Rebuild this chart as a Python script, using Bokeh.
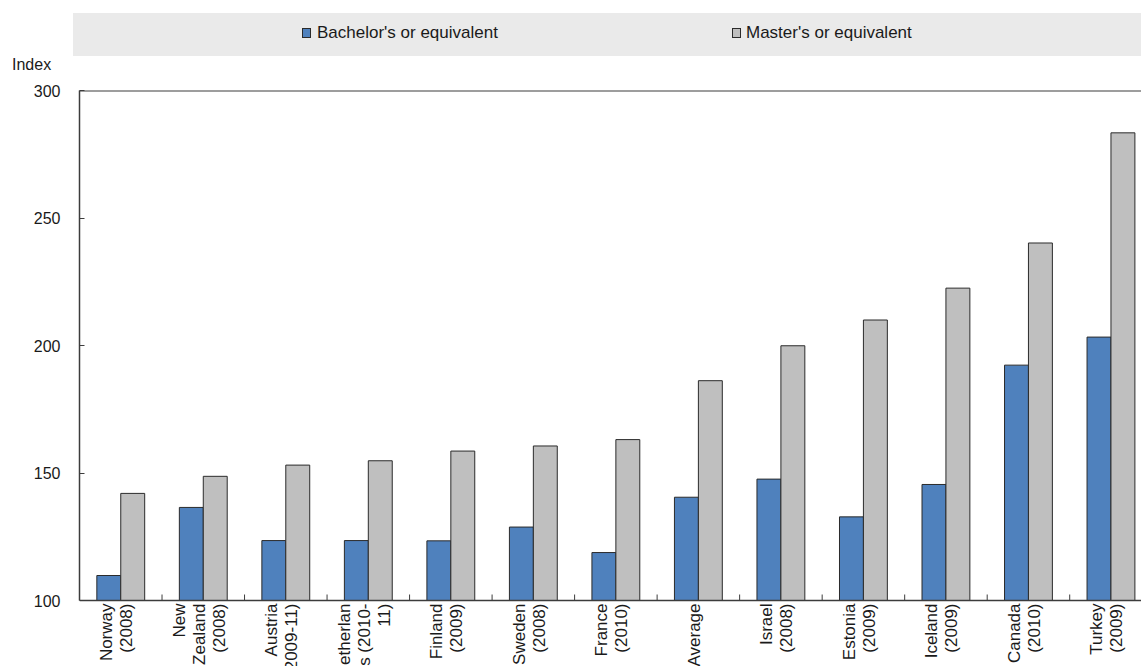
import numpy as np
from bokeh.plotting import figure
from bokeh.models import Range1d, FixedTicker, Span, ColumnDataSource, Div
from bokeh.layouts import column
from bokeh.embed import file_html
from bokeh.resources import INLINE
from bokeh.core.properties import value
from bokeh.transform import dodge

# ---------------- data ----------------
categories = ["Norway\n(2008)", "New\nZealand\n(2008)", "Austria\n(2009-11)",
              "Netherlan\nds (2010-\n11)", "Finland\n(2009)", "Sweden\n(2008)",
              "France\n(2010)", "Average", "Israel\n(2008)", "Estonia\n(2009)",
              "Iceland\n(2009)", "Canada\n(2010)", "Turkey\n(2009)"]
bachelor = [109.8, 136.5, 123.5, 123.5, 123.4, 128.8, 118.8, 140.5, 147.6, 132.8, 145.5, 192.3, 203.3]
master = [142.0, 148.7, 153.1, 154.8, 158.6, 160.6, 163.1, 186.2, 199.9, 210.0, 222.5, 240.2, 283.4]
series_names = ["Bachelor's or equivalent", "Master's or equivalent"]
series_colors = ["#4F81BD", "#BFBFBF"]
y_ticks = [100, 150, 200, 250, 300]
y_label = "Index"

FONT = "Liberation Sans"
W = 1141
OUTLINE = "#2b2b2b"
AXIS = "#3c3c3c"
TXT = "#1a1a1a"

# ---------------- header: legend band + "Index" ----------------
sq_left = [302, 732]
txt_left = [317, 746]
items = ""
for name, col, sl, tl in zip(series_names, series_colors, sq_left, txt_left):
    items += (f'<div style="position:absolute;left:{sl}px;top:28px;width:9px;height:10px;'
              f'background:{col};border:1px solid {OUTLINE};"></div>'
              f'<div style="position:absolute;left:{tl}px;top:23px;font-size:17px;line-height:20px;'
              f'white-space:nowrap;color:{TXT};">{name}</div>')
html = (f'<div style="position:relative;width:{W}px;height:80px;font-family:\'{FONT}\';">'
        f'<div style="position:absolute;left:73px;top:13px;width:{W - 73}px;height:43px;background:#EAEAEA;"></div>'
        f'{items}'
        f'<div style="position:absolute;left:12px;top:56px;font-size:16px;line-height:18px;color:{TXT};">{y_label}</div>'
        f'</div>')
head = Div(text=html, width=W, height=80, margin=0)

# ---------------- main chart ----------------
H = 586
TOP = 10
FRAME_PX_PER_UNIT = 510 / (y_ticks[-1] - y_ticks[0])
y_start = y_ticks[-1] - (H - TOP) / FRAME_PX_PER_UNIT

x = list(range(len(categories)))
src = ColumnDataSource(dict(x=x, bachelor=bachelor, master=master))

p = figure(width=W, height=H, x_range=Range1d(-0.5, 12.37), y_range=Range1d(y_start, y_ticks[-1]),
           output_backend="svg", toolbar_location=None,
           min_border_left=79, min_border_right=0, min_border_top=TOP, min_border_bottom=0)
p.outline_line_color = None
p.grid.visible = False
p.xaxis.visible = False

p.vbar(x=dodge("x", -0.145), top="bachelor", bottom=y_ticks[0], width=0.29, source=src,
       fill_color=series_colors[0], line_color=OUTLINE, line_width=1)
p.vbar(x=dodge("x", 0.145), top="master", bottom=y_ticks[0], width=0.29, source=src,
       fill_color=series_colors[1], line_color=OUTLINE, line_width=1)

# y axis
p.yaxis.ticker = FixedTicker(ticks=y_ticks)
p.yaxis.bounds = (y_ticks[0], y_ticks[-1])
p.yaxis.major_tick_in = 5
p.yaxis.major_tick_out = 0
p.yaxis.minor_tick_in = 0
p.yaxis.minor_tick_out = 0
p.yaxis.axis_line_color = AXIS
p.yaxis.axis_line_width = 1.5
p.yaxis.major_tick_line_color = AXIS
p.yaxis.major_label_text_font = FONT
p.yaxis.major_label_text_font_size = "16px"
p.yaxis.major_label_text_color = TXT
p.yaxis.major_label_standoff = 19

# frame lines (top and bottom axis line)
p.add_layout(Span(location=y_ticks[-1], dimension="width", line_color=AXIS, line_width=2))
p.add_layout(Span(location=y_ticks[0], dimension="width", line_color=AXIS, line_width=1.5))

# separator ticks between categories
sep = [i + 0.5 for i in range(len(categories) - 1)]
tick_len = 6 / FRAME_PX_PER_UNIT
p.segment(x0=sep, x1=sep, y0=[y_ticks[0]] * len(sep), y1=[y_ticks[0] + tick_len] * len(sep),
          line_color=AXIS, line_width=1)

# category labels (rotated, below the axis line)
lab_src = ColumnDataSource(dict(x=x, y=[y_ticks[0]] * len(x), text=categories))
p.text(x="x", y="y", text="text", source=lab_src, angle=np.pi / 2, text_align="right",
       text_baseline="middle", x_offset=-4, y_offset=3, text_font=value(FONT),
       text_font_size="17px", text_line_height=1.05, text_color=TXT)

layout = column(head, p, spacing=0)
open("out.html", "w").write(file_html(layout, INLINE))
